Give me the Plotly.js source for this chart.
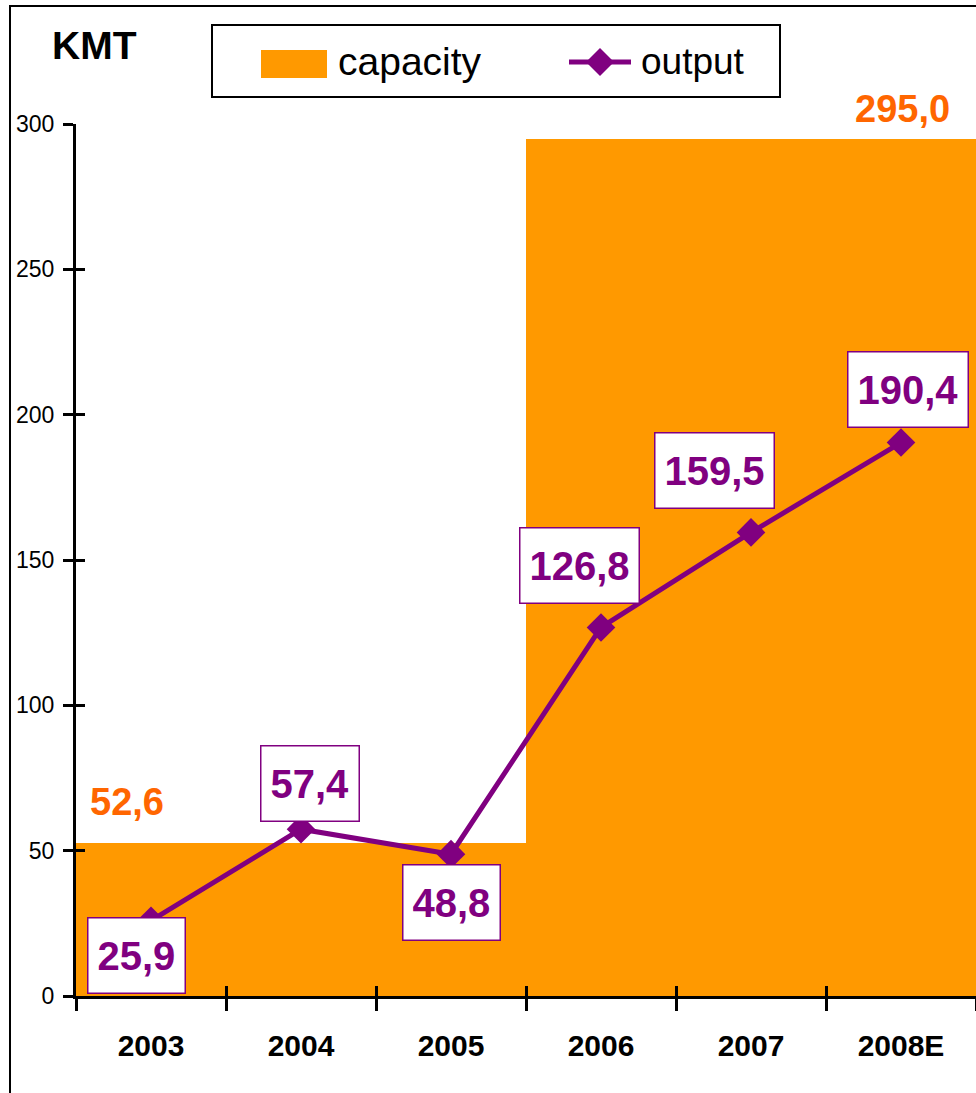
<!DOCTYPE html>
<html>
<head>
<meta charset="utf-8">
<script src="https://cdn.plot.ly/plotly-3.0.1.min.js"></script>
<style>
  html, body { margin: 0; padding: 0; background: #ffffff; }
  #chart { width: 976px; height: 1093px; }
</style>
</head>
<body>
<div id="chart"></div>
<script>
// ---- data ----
const years = ["2003", "2004", "2005", "2006", "2007", "2008E"];
const capacity = [52.6, 52.6, 52.6, 295.0, 295.0, 295.0];
const output = [25.9, 57.4, 48.8, 126.8, 159.5, 190.4];
const outputLabels = ["25,9", "57,4", "48,8", "126,8", "159,5", "190,4"];
const capacityLabels = ["52,6", "295,0"];
const capacityLabelIdx = [0, 5];
const yTicks = [0, 50, 100, 150, 200, 250, 300];
const unitLabel = "KMT";
const seriesNames = ["capacity", "output"];

// ---- styling ----
const ORANGE = "#FF9900";
const LABEL_ORANGE = "#FF6600";
const PURPLE = "#800080";
const FONT = "Liberation Sans, Arial, sans-serif";

// plot area geometry (pixels)
const W = 976, H = 1093;
const L = 76, R = 0, T = 124, B = 97;
const PW = W - L - R, PH = H - T - B;
const px = x => (x - L) / PW;
const py = y => (H - B - y) / PH;

// label offsets (pixels) per output point
const outShift = [[-15, -35], [9, 46], [0, -48], [-22, 62], [-37, 62], [7, 53]];
const capShift = [[-24, 41], [1, 30]];

const traces = [
  {
    type: "bar",
    name: seriesNames[0],
    x: years,
    y: capacity,
    width: 1,
    marker: { color: ORANGE, line: { width: 0 } },
    showlegend: false,
    hoverinfo: "skip"
  },
  {
    type: "scatter",
    mode: "lines+markers",
    name: seriesNames[1],
    x: years,
    y: output,
    line: { color: PURPLE, width: 5 },
    marker: { symbol: "diamond", size: 22, color: PURPLE },
    showlegend: false,
    cliponaxis: false
  },
  {
    // helper trace to carry the inside half of the cross ticks
    type: "scatter",
    mode: "markers",
    x: years,
    y: output,
    xaxis: "x2",
    yaxis: "y2",
    marker: { opacity: 0 },
    showlegend: false,
    hoverinfo: "skip"
  }
];

const annotations = [];
output.forEach((v, i) => {
  annotations.push({
    x: i, y: v, xref: "x", yref: "y",
    text: "<b>" + outputLabels[i] + "</b>",
    showarrow: false,
    xanchor: "center", yanchor: "middle",
    xshift: outShift[i][0], yshift: outShift[i][1],
    font: { family: FONT, size: 40, color: PURPLE },
    bgcolor: "#ffffff",
    bordercolor: PURPLE,
    borderwidth: 1.5,
    borderpad: 9,
    height: 56
  });
});
capacityLabelIdx.forEach((idx, k) => {
  annotations.push({
    x: idx, y: capacity[idx], xref: "x", yref: "y",
    text: "<b>" + capacityLabels[k] + "</b>",
    showarrow: false,
    xanchor: "center", yanchor: "middle",
    xshift: capShift[k][0], yshift: capShift[k][1],
    font: { family: FONT, size: 38, color: LABEL_ORANGE }
  });
});
// unit label
annotations.push({
  x: px(94), y: py(45), xref: "paper", yref: "paper",
  text: "<b>" + unitLabel + "</b>", showarrow: false,
  xanchor: "center", yanchor: "middle",
  font: { family: FONT, size: 39, color: "#000000" }
});
// legend texts
annotations.push({
  x: px(336), y: py(62), xref: "paper", yref: "paper",
  text: seriesNames[0], showarrow: false,
  xanchor: "left", yanchor: "middle",
  font: { family: FONT, size: 39, color: "#000000" }
});
annotations.push({
  x: px(639), y: py(62), xref: "paper", yref: "paper",
  text: seriesNames[1], showarrow: false,
  xanchor: "left", yanchor: "middle",
  font: { family: FONT, size: 37, color: "#000000" }
});

const shapes = [
  // outer frame
  { type: "rect", xref: "paper", yref: "paper",
    x0: px(10), x1: px(1000), y0: py(1120), y1: py(6),
    line: { color: "#000000", width: 2 }, fillcolor: "rgba(0,0,0,0)", layer: "below" },
  // legend box
  { type: "rect", xref: "paper", yref: "paper",
    x0: px(212), x1: px(780), y0: py(97), y1: py(25),
    line: { color: "#000000", width: 2 }, fillcolor: "#ffffff" },
  // legend capacity swatch
  { type: "rect", xref: "paper", yref: "paper",
    x0: px(261), x1: px(327), y0: py(78), y1: py(50),
    line: { width: 0 }, fillcolor: ORANGE },
  // legend output line
  { type: "line", xref: "paper", yref: "paper",
    x0: px(569), x1: px(631), y0: py(62), y1: py(62),
    line: { color: PURPLE, width: 5 } },
  // legend output diamond
  { type: "path", xref: "paper", yref: "paper",
    xsizemode: "pixel", ysizemode: "pixel",
    xanchor: px(600), yanchor: py(62),
    path: "M -14 0 L 0 14 L 14 0 L 0 -14 Z",
    line: { width: 0 }, fillcolor: PURPLE }
];

const layout = {
  width: W, height: H,
  margin: { l: L, r: R, t: T, b: B, pad: 0 },
  paper_bgcolor: "#ffffff",
  plot_bgcolor: "rgba(0,0,0,0)",
  bargap: 0,
  showlegend: false,
  font: { family: FONT, color: "#000000" },
  xaxis: {
    type: "category",
    categoryarray: years,
    range: [-0.5, 5.5],
    showgrid: false,
    zeroline: false,
    showline: true,
    linecolor: "#000000",
    linewidth: 3,
    ticks: "outside",
    tickson: "boundaries",
    ticklen: 12,
    tickwidth: 3,
    tickcolor: "#000000",
    ticklabelstandoff: 21,
    tickfont: { family: FONT, size: 30, color: "#000000", weight: "bold" },
    fixedrange: true
  },
  yaxis: {
    range: [0, 300],
    tickvals: yTicks,
    ticktext: yTicks.map(String),
    showgrid: false,
    zeroline: false,
    showline: true,
    linecolor: "#000000",
    linewidth: 3,
    ticks: "outside",
    ticklen: 10,
    tickwidth: 3,
    tickcolor: "#000000",
    ticklabelstandoff: 4,
    tickfont: { family: FONT, size: 23, color: "#000000" },
    fixedrange: true
  },
  xaxis2: {
    type: "category",
    categoryarray: years,
    range: [-0.5, 5.5],
    overlaying: "x",
    anchor: "y2",
    side: "bottom",
    showgrid: false, zeroline: false, showline: false,
    ticks: "inside", tickson: "boundaries",
    ticklen: 10, tickwidth: 3, tickcolor: "#000000",
    showticklabels: false,
    fixedrange: true
  },
  yaxis2: {
    range: [0, 300],
    tickvals: yTicks,
    overlaying: "y",
    anchor: "x2",
    side: "left",
    showgrid: false, zeroline: false, showline: false,
    ticks: "inside",
    ticklen: 9, tickwidth: 3, tickcolor: "#000000",
    showticklabels: false,
    fixedrange: true
  },
  annotations: annotations,
  shapes: shapes
};

Plotly.newPlot("chart", traces, layout, { displayModeBar: false, staticPlot: true });
</script>
</body>
</html>
